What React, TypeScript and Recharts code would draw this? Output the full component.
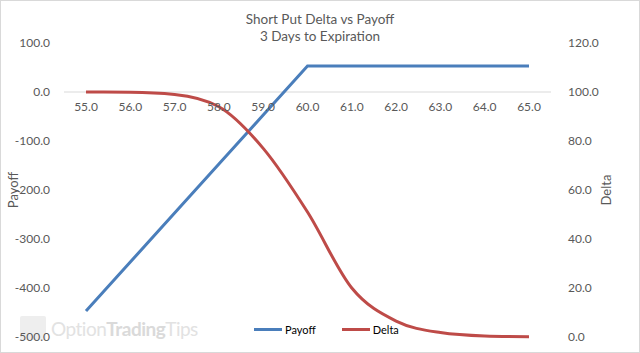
import { Line, LineChart, ReferenceDot, ReferenceLine, XAxis, YAxis } from "recharts";

const strikes = [55, 56, 57, 58, 59, 60, 61, 62, 63, 64, 65];
const payoff = [-447, -347, -247, -147, -47, 53, 53, 53, 53, 53, 53];
const delta = [100, 99.9, 99, 94, 77, 51, 20, 6.5, 1.8, 0.4, 0.1];

const payoffTicks = [-500, -400, -300, -200, -100, 0, 100];
const deltaTicks = [0, 20, 40, 60, 80, 100, 120];

const BLUE = "#4a7ebb";
const RED = "#be4b48";
const TEXT = "#595959";
const FONT = "Lato, 'Open Sans', sans-serif";

const data = strikes.map((s, i) => ({
  strike: s.toFixed(1),
  payoff: payoff[i],
  delta: delta[i],
}));

const series = [
  { key: "payoff", name: "Payoff", color: BLUE },
  { key: "delta", name: "Delta", color: RED },
];

function AxisTitle({ viewBox, title, px }: any) {
  const cy = viewBox.y + viewBox.height / 2;
  return (
    <text
      x={px}
      y={cy}
      transform={`rotate(-90 ${px} ${cy})`}
      textAnchor="middle"
      dominantBaseline="central"
      fill={TEXT}
      fontSize={13}
      fontFamily={FONT}
    >
      {title}
    </text>
  );
}

export default function App() {
  return (
    <div
      style={{
        position: "absolute",
        left: 0,
        top: 0,
        width: 640,
        height: 353,
        boxSizing: "border-box",
        border: "1px solid #d9d9d9",
        background: "#fff",
        fontFamily: FONT,
        color: TEXT,
      }}
    >
      <div style={{ position: "absolute", top: 10, width: "100%", textAlign: "center", fontSize: 13.5, lineHeight: "17px" }}>
        Short Put Delta vs Payoff
        <br />
        3 Days to Expiration
      </div>

      <div
        style={{
          position: "absolute",
          left: 19,
          top: 315,
          display: "flex",
          alignItems: "center",
          color: "#e2e2e2",
          fontSize: 19,
          letterSpacing: -0.5,
        }}
      >
        <div style={{ width: 26, height: 24, background: "#eeeeee", marginRight: 5, borderRadius: 2 }} />
        <span>Option</span>
        <span style={{ fontWeight: 700, color: "#dadada" }}>Trading</span>
        <span>Tips</span>
      </div>

      <LineChart
        width={638}
        height={351}
        data={data}
        margin={{ top: 42, right: 0, bottom: 15, left: 0 }}
        style={{ position: "absolute", left: 0, top: 0 }}
      >
        <XAxis dataKey="strike" hide padding={{ left: 22, right: 22 }} />
        <YAxis
          yAxisId="left"
          domain={[-500, 100]}
          ticks={payoffTicks}
          tickFormatter={(v: number) => v.toFixed(1)}
          axisLine={false}
          tickLine={false}
          width={63}
          tickMargin={8}
          tick={{ fill: TEXT, fontSize: 12, fontFamily: FONT }}
          label={<AxisTitle title="Payoff" px={12} />}
        />
        <YAxis
          yAxisId="right"
          orientation="right"
          domain={[0, 120]}
          ticks={deltaTicks}
          tickFormatter={(v: number) => v.toFixed(1)}
          axisLine={false}
          tickLine={false}
          width={88}
          tickMargin={11}
          tick={{ fill: TEXT, fontSize: 12, fontFamily: FONT, textAnchor: "start" }}
          label={<AxisTitle title="Delta" px={605} />}
        />
        <ReferenceLine yAxisId="left" y={0} stroke="#d9d9d9" strokeWidth={1} />
        {data.map((d) => (
          <ReferenceDot
            key={d.strike}
            yAxisId="left"
            x={d.strike}
            y={0}
            r={0}
            shape={(p: any) => (
              <text x={p.cx} y={p.cy + 19} textAnchor="middle" fill={TEXT} fontSize={12} fontFamily={FONT}>
                {d.strike}
              </text>
            )}
          />
        ))}
        <Line
          yAxisId="left"
          dataKey="payoff"
          name="Payoff"
          type="linear"
          stroke={BLUE}
          strokeWidth={3}
          dot={false}
          isAnimationActive={false}
        />
        <Line
          yAxisId="right"
          dataKey="delta"
          name="Delta"
          type="monotone"
          stroke={RED}
          strokeWidth={3}
          dot={false}
          isAnimationActive={false}
        />
      </LineChart>

      <div
        style={{
          position: "absolute",
          top: 322,
          left: 253,
          display: "flex",
          alignItems: "center",
          fontSize: 11,
          color: "#000",
        }}
      >
        {series.map((s, i) => (
          <div key={s.key} style={{ display: "flex", alignItems: "center", marginLeft: i ? 26 : 0 }}>
            <div style={{ width: 28, height: 3, background: s.color, marginRight: 3 }} />
            <span>{s.name}</span>
          </div>
        ))}
      </div>
    </div>
  );
}
